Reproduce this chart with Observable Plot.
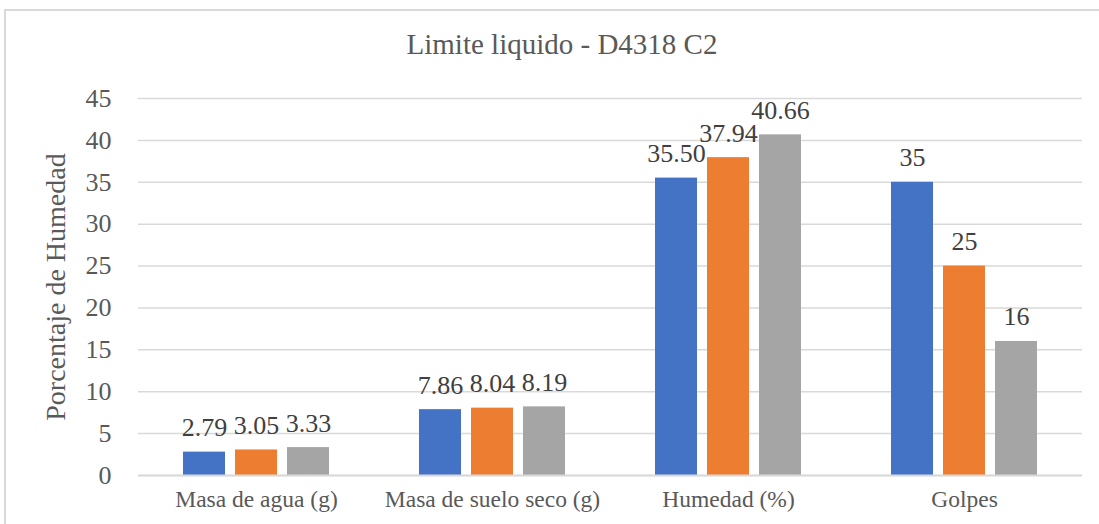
<!DOCTYPE html>
<html>
<head>
<meta charset="utf-8">
<script src="https://cdn.jsdelivr.net/npm/d3@7"></script>
<script src="https://cdn.jsdelivr.net/npm/@observablehq/plot@0.6"></script>
<style>
  html, body { margin: 0; padding: 0; background: #fff; }
  #wrap { position: relative; width: 1099px; height: 524px; overflow: hidden; }
  #frame { position: absolute; left: 4px; top: 9px; width: 1200px; height: 600px; border-top: 2px solid #d9d9d9; border-left: 2px solid #d9d9d9; }
  #title { position: absolute; left: 0; top: 30px; width: 1124px; text-align: center; font-family: "Liberation Serif", "Times New Roman", serif; font-size: 29px; line-height: 1; color: #595959; }
  #chart { position: absolute; left: 0; top: 0; }
</style>
</head>
<body>
<div id="wrap">
  <div id="frame"></div>
  <div id="title">Limite liquido - D4318 C2</div>
  <div id="chart"></div>
</div>
<script>
const categories = ["Masa de agua (g)", "Masa de suelo seco (g)", "Humedad (%)", "Golpes"];
const series = ["Ensayo 1", "Ensayo 2", "Ensayo 3"];
const series1 = [2.79, 7.86, 35.50, 35];
const series2 = [3.05, 8.04, 37.94, 25];
const series3 = [3.33, 8.19, 40.66, 16];
const labelDecimals = [2, 2, 2, 0];
const yTicks = [0, 5, 10, 15, 20, 25, 30, 35, 40, 45];
const colors = ["#4472C4", "#ED7D31", "#A5A5A5"];

const allSeries = [series1, series2, series3];
const data = [];
categories.forEach((c, i) => {
  allSeries.forEach((vals, s) => {
    data.push({category: c, series: series[s], value: vals[i], label: vals[i].toFixed(labelDecimals[i])});
  });
});

const font = "'Liberation Serif', 'Times New Roman', serif";

const chart = Plot.plot({
  width: 1099,
  height: 524,
  marginLeft: 137,
  marginRight: 16,
  marginTop: 98,
  marginBottom: 49,
  style: {fontFamily: font, color: "#595959", background: "transparent"},
  fx: {domain: categories, padding: 0, label: null},
  x: {domain: series, paddingInner: 0.2, paddingOuter: 0.85, axis: null},
  y: {domain: [0, 45], ticks: yTicks, label: null},
  color: {domain: series, range: colors},
  marks: [
    Plot.gridY(yTicks, {stroke: "#d9d9d9", strokeOpacity: 1, strokeWidth: 1.5}),
    Plot.axisY(yTicks, {tickSize: 0, tickPadding: 27, fontSize: 26, fill: "#595959", fontFamily: font, label: null}),
    Plot.axisY([], {tickSize: 0, fontSize: 28, fill: "#595959", fontFamily: font,
      label: "Porcentaje de Humedad", labelAnchor: "center", labelArrow: "none", labelOffset: 93}),
    Plot.barY(data, {fx: "category", x: "series", y: "value", fill: "series"}),
    Plot.ruleY([0], {stroke: "#d9d9d9", strokeWidth: 2}),
    Plot.text(data, {fx: "category", x: "series", y: "value", text: "label", lineAnchor: "bottom", dy: -16, fontSize: 26, fill: "#404040", fontFamily: font}),
    Plot.axisFx({anchor: "bottom", tickSize: 0, tickPadding: 15, fontSize: 23.5, fill: "#595959", fontFamily: font, label: null})
  ]
});
chart.querySelectorAll("text").forEach(t => t.style.fontFamily = font);
document.getElementById("chart").appendChild(chart);
</script>
</body>
</html>
